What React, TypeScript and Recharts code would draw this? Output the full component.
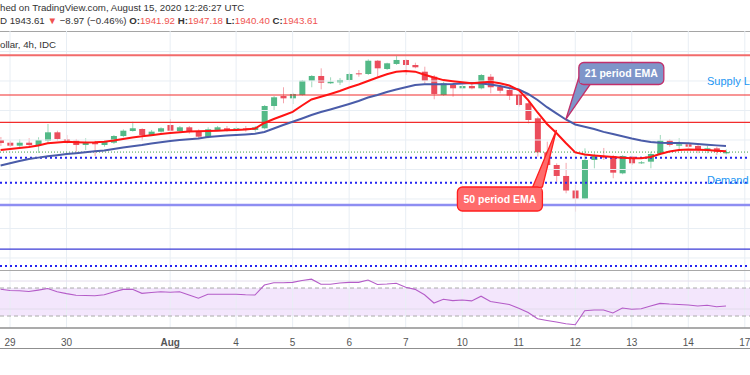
import React from "react";
import {
  ComposedChart,
  Bar,
  Line,
  XAxis,
  YAxis,
  ReferenceLine,
  ReferenceArea,
  ReferenceDot,
} from "recharts";

// 4h candles, XAUUSD, Jul 29 - Aug 14 2020
const opens = [
  1960.0, 1956.3, 1952.3, 1956.3, 1953.2, 1959.1, 1970.4, 1961.0, 1959.1, 1953.2,
  1956.3, 1953.2, 1956.3, 1965.4, 1972.2, 1974.9, 1966.8, 1971.3, 1980.3, 1972.2,
  1977.2, 1972.2, 1963.7, 1973.6, 1975.9, 1973.6, 1975.9, 1973.6, 1975.9, 2006.1,
  2019.7, 2016.5, 2021.0, 2040.4, 2046.8, 2036.9, 2038.2, 2041.4, 2050.4, 2049.5,
  2067.5, 2056.3, 2063.1, 2068.5, 2061.7, 2052.6, 2045.8, 2021.0, 2034.6, 2030.1,
  2033.2, 2030.1, 2045.8, 2032.3, 2027.8, 2021.0, 2009.8, 1989.4, 1943.3, 1926.1,
  1911.2, 1891.5, 1880.3, 1932.9, 1937.5, 1938.3, 1914.8, 1937.4, 1928.4, 1930.6,
  1941.0, 1959.1, 1952.3, 1954.2, 1951.9, 1946.4, 1948.7, 1941.92,
];
const highs = [
  1964.1, 1959.0, 1961.0, 1962.3, 1963.7, 1981.7, 1972.6, 1966.8, 1961.4, 1962.3,
  1959.1, 1959.1, 1966.8, 1974.5, 1984.8, 1975.9, 1973.6, 1977.2, 1988.5, 1979.0,
  1979.0, 1974.5, 1977.2, 1979.0, 1979.0, 1978.1, 1979.0, 1979.0, 2007.5, 2019.7,
  2031.5, 2024.1, 2041.4, 2048.1, 2057.2, 2045.0, 2044.1, 2051.3, 2054.9, 2069.4,
  2068.5, 2064.8, 2075.3, 2069.4, 2064.8, 2059.4, 2048.1, 2039.1, 2036.9, 2035.5,
  2036.9, 2049.5, 2049.5, 2034.6, 2030.1, 2023.3, 2011.9, 1991.6, 1957.7, 1928.4,
  1929.0, 1899.0, 1948.7, 1942.0, 1949.2, 1939.7, 1939.5, 1938.3, 1931.5, 1944.1,
  1966.8, 1961.0, 1962.3, 1956.3, 1954.2, 1951.9, 1950.9, 1947.18,
];
const lows = [
  1951.9, 1950.5, 1950.5, 1950.9, 1942.4, 1955.9, 1959.1, 1954.6, 1944.1, 1946.4,
  1938.3, 1950.9, 1954.6, 1963.7, 1971.3, 1959.1, 1965.4, 1969.9, 1971.3, 1971.3,
  1968.5, 1961.0, 1962.3, 1972.6, 1971.3, 1972.6, 1971.3, 1971.3, 1974.5, 2000.7,
  2009.8, 2008.8, 2020.1, 2031.5, 2028.7, 2036.0, 2034.6, 2039.1, 2045.8, 2048.1,
  2045.8, 2054.9, 2061.7, 2048.1, 2057.2, 2036.9, 2015.2, 2019.7, 2018.7, 2028.7,
  2028.7, 2028.7, 2023.3, 2023.3, 2014.2, 2005.2, 1982.6, 1937.4, 1921.6, 1903.5,
  1887.7, 1862.8, 1879.5, 1921.6, 1932.9, 1908.1, 1913.5, 1926.1, 1927.5, 1921.6,
  1939.7, 1950.9, 1946.4, 1948.7, 1942.0, 1942.0, 1939.7, 1940.4,
];
const closes = [
  1955.9, 1952.3, 1956.3, 1953.2, 1960.0, 1970.4, 1961.4, 1956.9, 1953.2, 1956.3,
  1954.2, 1957.7, 1965.4, 1972.6, 1975.9, 1966.8, 1971.3, 1975.9, 1972.6, 1977.2,
  1971.3, 1964.5, 1974.5, 1977.2, 1973.6, 1975.9, 1973.6, 1977.2, 2006.1, 2017.9,
  2016.5, 2022.4, 2040.4, 2046.8, 2037.7, 2039.1, 2041.4, 2049.5, 2049.1, 2067.5,
  2057.2, 2064.0, 2068.5, 2061.7, 2058.6, 2040.4, 2022.4, 2036.9, 2030.1, 2033.2,
  2030.1, 2048.1, 2031.5, 2026.8, 2020.1, 2007.5, 1987.1, 1943.3, 1926.1, 1911.2,
  1891.5, 1880.3, 1932.9, 1938.3, 1936.5, 1915.7, 1938.3, 1928.4, 1929.7, 1941.0,
  1959.1, 1953.2, 1954.2, 1950.9, 1946.4, 1948.7, 1944.1, 1943.61,
];
// slow (blue) and fast (red) moving averages, named as the callouts name them
const ema21 = [
  1925.4, 1928.4, 1931.5, 1934.2, 1936.1, 1937.8, 1939.4, 1941.0, 1942.1, 1943.3,
  1944.7, 1945.8, 1947.8, 1949.8, 1951.5, 1953.2, 1955.3, 1957.0, 1958.6, 1960.0,
  1961.0, 1962.0, 1964.1, 1965.2, 1966.1, 1966.9, 1967.6, 1968.4, 1970.8, 1975.6,
  1980.3, 1984.7, 1989.2, 1993.9, 1997.9, 2001.4, 2005.0, 2008.8, 2012.9, 2017.6,
  2021.0, 2025.1, 2028.5, 2031.5, 2034.6, 2035.5, 2035.5, 2035.5, 2035.9, 2036.6,
  2037.3, 2036.6, 2035.3, 2033.2, 2030.5, 2028.5, 2022.4, 2014.2, 2004.5, 1996.0,
  1987.8, 1981.0, 1978.0, 1975.0, 1971.0, 1968.0, 1965.0, 1962.0, 1959.3, 1957.3,
  1956.3, 1955.9, 1955.8, 1955.5, 1954.6, 1953.6, 1952.7, 1951.9,
];
const ema50 = [
  1946.4, 1947.8, 1949.2, 1950.5, 1952.5, 1955.5, 1956.6, 1957.7, 1957.0, 1956.5,
  1956.9, 1957.6, 1959.2, 1961.4, 1963.5, 1965.0, 1966.5, 1968.1, 1969.4, 1970.4,
  1971.4, 1971.9, 1972.3, 1972.7, 1973.3, 1973.7, 1974.1, 1975.6, 1983.1, 1988.5,
  1993.2, 1998.2, 2006.8, 2014.9, 2018.6, 2022.4, 2026.4, 2031.2, 2035.3, 2040.0,
  2044.7, 2049.1, 2052.6, 2053.6, 2052.7, 2048.4, 2044.7, 2041.2, 2039.7, 2038.4,
  2036.9, 2037.8, 2038.9, 2036.9, 2033.8, 2027.8, 2014.2, 1997.3, 1981.7, 1969.5,
  1955.9, 1943.1, 1940.2, 1939.0, 1937.9, 1936.8, 1935.9, 1935.2, 1935.2, 1937.0,
  1941.0, 1944.4, 1946.4, 1947.1, 1946.8, 1946.4, 1945.5, 1944.7,
];
const rsi = [
  68.3, 66.4, 66.0, 65.0, 67.0, 69.3, 64.7, 62.0, 59.7, 59.3,
  59.0, 60.3, 64.3, 68.1, 68.1, 62.4, 63.6, 64.7, 63.9, 64.7,
  60.0, 55.4, 61.0, 61.0, 61.0, 61.0, 60.3, 60.0, 74.3, 77.6,
  77.6, 78.1, 80.7, 82.6, 75.3, 75.3, 77.1, 78.1, 78.1, 81.4,
  75.0, 75.7, 76.7, 71.0, 68.1, 60.3, 48.6, 53.9, 52.0, 52.9,
  51.6, 58.3, 50.7, 48.6, 46.4, 41.0, 34.9, 26.1, 23.6, 21.4,
  18.9, 17.6, 37.6, 38.6, 38.6, 34.3, 41.4, 39.6, 40.4, 44.3,
  48.1, 47.1, 46.4, 45.7, 44.3, 45.3, 43.3, 44.3,
];

const dayTicks = [1, 7, 18, 25, 31, 37, 43, 49, 55, 61, 67, 73, 79];
const dayLabels = ["29", "30", "Aug", "4", "5", "6", "7", "10", "11", "12", "13", "14", "17"];
const priceGrid = [2080, 2040, 2000, 1960, 1920, 1880, 1840, 1800];
const rsiGrid = [80, 40];
const supplyLevels = [2021, 1984];
const topLevel = 2075;
const dottedLevels = [1936, 1902, 1789];
const demandLevel = 1872;
const lowerLevel = 1812;
const lastPrice = 1943.61;

const data = opens.map((o, i) => ({
  i,
  open: o,
  high: highs[i],
  low: lows[i],
  close: closes[i],
  range: [lows[i], highs[i]],
  ema21: ema21[i],
  ema50: ema50[i],
  rsi: rsi[i],
}));

const X_DOMAIN: [number, number] = [-0.064, 79.55];
const FONT = "'Liberation Sans', Arial, sans-serif";
const GRID = "#e8eef4";

const Candle = (props: any) => {
  const { x, y, width, height, payload } = props;
  if (!payload) return null;
  const { open, close, high, low } = payload;
  const up = close >= open;
  const k = height / Math.max(high - low, 0.0001);
  const top = y + (high - Math.max(open, close)) * k;
  const bot = y + (high - Math.min(open, close)) * k;
  const cx = x + width / 2;
  return (
    <g>
      <line x1={cx} x2={cx} y1={y} y2={y + height} stroke={up ? "#9fd8bb" : "#f4a6ae"} strokeWidth={1} />
      <rect x={x} y={top} width={width} height={Math.max(bot - top, 1)} fill={up ? "#53b987" : "#eb4d5c"} />
    </g>
  );
};

const BlueCallout = (props: any) => {
  const { cx, cy } = props;
  return (
    <g>
      <polygon
        points={`${cx},${cy} ${cx + 13},${cy - 42} ${cx + 25},${cy - 36}`}
        fill="#7e95c9"
        stroke="#c1306b"
        strokeWidth={1.3}
      />
      <rect x={cx + 13} y={cy - 57} width={85} height={22} rx={5} fill="#7e95c9" stroke="#c1306b" strokeWidth={1.3} />
      <polygon points={`${cx + 14},${cy - 41} ${cx + 24},${cy - 36.5} ${cx + 14},${cy - 36.5}`} fill="#7e95c9" />
      <text x={cx + 55.5} y={cy - 42} textAnchor="middle" fill="#fff" fontSize={10.5} fontWeight={700} fontFamily={FONT}>
        21 period EMA
      </text>
    </g>
  );
};

const RedCallout = (props: any) => {
  const { cx, cy } = props;
  return (
    <g>
      <polygon
        points={`${cx},${cy - 3} ${cx - 25},${cy + 57} ${cx - 14},${cy + 54}`}
        fill="#ff6b6b"
        stroke="#ff1f1f"
        strokeWidth={1.3}
      />
      <rect x={cx - 99} y={cy + 54} width={85} height={24} rx={5} fill="#ff6b6b" stroke="#ff1f1f" strokeWidth={1.3} />
      <polygon points={`${cx - 24},${cy + 55} ${cx - 15},${cy + 55} ${cx - 15},${cy + 58}`} fill="#ff6b6b" />
      <text x={cx - 56.5} y={cy + 70} textAnchor="middle" fill="#fff" fontSize={10.5} fontWeight={700} fontFamily={FONT}>
        50 period EMA
      </text>
    </g>
  );
};

const headerText = { position: "absolute" as const, left: 0, whiteSpace: "nowrap" as const, fontFamily: FONT, fontSize: 9.7, color: "#333" };
const red = { color: "#ef5350" };

export default function App() {
  return (
    <div
      style={{
        position: "fixed",
        left: 0,
        top: 0,
        width: 750,
        height: 375,
        background: "#fff",
        overflow: "hidden",
      }}
    >
      <div style={{ ...headerText, top: 2 }}>hed on TradingView.com, August 15, 2020 12:26:27 UTC</div>
      <div style={{ ...headerText, top: 15 }}>
        D 1943.61 <span style={red}>▼</span> −8.97 (−0.46%) <b>O:</b>
        <span style={red}>1941.92</span> <b>H:</b>
        <span style={red}>1947.18</span> <b>L:</b>
        <span style={red}>1940.40</span> <b>C:</b>
        <span style={red}>1943.61</span>
      </div>

      {/* main price pane */}
      <div style={{ position: "absolute", left: 0, top: 31, width: 750, height: 239, borderTop: "1.5px solid #a5a5a5", boxSizing: "border-box" }} />
      <div style={{ position: "absolute", left: 0, top: 31 }}>
        <ComposedChart width={750} height={239} data={data} margin={{ top: 0, right: 0, bottom: 0, left: 0 }}>
          <XAxis type="number" dataKey="i" domain={X_DOMAIN} allowDataOverflow hide />
          <YAxis type="number" domain={[1783.7, 2107.8]} allowDataOverflow hide />
          {priceGrid.map((p) => (
            <ReferenceLine key={`g${p}`} y={p} stroke={GRID} strokeWidth={1} />
          ))}
          {dayTicks.map((d) => (
            <ReferenceLine key={`v${d}`} x={d} stroke={GRID} strokeWidth={1} />
          ))}
          <ReferenceLine y={topLevel} stroke="#f26b6b" strokeWidth={2} />
          {supplyLevels.map((p) => (
            <ReferenceLine key={`s${p}`} y={p} stroke="#f22c2c" strokeWidth={1.2} />
          ))}
          <ReferenceLine y={lastPrice} stroke="#43a047" strokeWidth={1} strokeDasharray="1 2" />
          {dottedLevels.map((p) => (
            <ReferenceLine key={`d${p}`} y={p} stroke="#2424f0" strokeWidth={2} strokeDasharray="2 3" />
          ))}
          <ReferenceLine y={demandLevel} stroke="#8e8ef2" strokeWidth={2.5} />
          <ReferenceLine y={lowerLevel} stroke="#3b3bd6" strokeWidth={1.3} />
          <Bar dataKey="range" barSize={6} shape={<Candle />} isAnimationActive={false} />
          <Line type="linear" dataKey="ema21" stroke="#4a5ca9" strokeWidth={2} dot={false} isAnimationActive={false} />
          <Line type="linear" dataKey="ema50" stroke="#ff1414" strokeWidth={2} dot={false} isAnimationActive={false} />
          <ReferenceDot x={60} y={ema21[60]} r={0} shape={<BlueCallout />} />
          <ReferenceDot x={59} y={ema50[59]} r={0} shape={<RedCallout />} />
        </ComposedChart>
      </div>
      <div style={{ ...headerText, top: 39 }}>ollar, 4h, IDC</div>
      <div style={{ position: "absolute", left: 707, top: 75, fontFamily: FONT, fontSize: 11, color: "#2196f3", whiteSpace: "nowrap" }}>
        Supply Level
      </div>
      <div style={{ position: "absolute", left: 707, top: 174, fontFamily: FONT, fontSize: 11, color: "#2196f3", whiteSpace: "nowrap" }}>
        Demand Level
      </div>

      {/* RSI pane with time axis */}
      <div style={{ position: "absolute", left: 0, top: 269.5, width: 750, height: 1.5, background: "#a8a8a8" }} />
      <div style={{ position: "absolute", left: 0, top: 271 }}>
        <ComposedChart width={750} height={77} data={data} margin={{ top: 0, right: 0, bottom: 0, left: 0 }}>
          <XAxis
            type="number"
            dataKey="i"
            domain={X_DOMAIN}
            allowDataOverflow
            ticks={dayTicks}
            interval={0}
            tick={(p: any) => {
              const label = dayLabels[dayTicks.indexOf(p.payload.value)] ?? "";
              return (
                <text
                  x={p.x}
                  y={p.y + 10}
                  textAnchor="middle"
                  fontSize={10}
                  fontFamily={FONT}
                  fontWeight={label === "Aug" ? 700 : 400}
                  fill="#555"
                >
                  {label}
                </text>
              );
            }}
            tickLine={false}
            axisLine={{ stroke: "#8f8f8f", strokeWidth: 1.5 }}
            height={20}
          />
          <YAxis type="number" domain={[12.9, 94.3]} allowDataOverflow hide />
          {dayTicks.map((d) => (
            <ReferenceLine key={`rv${d}`} x={d} stroke={GRID} strokeWidth={1} />
          ))}
          <ReferenceArea y1={30} y2={70} fill="#f3e6fc" fillOpacity={1} stroke="none" />
          {rsiGrid.map((r) => (
            <ReferenceLine key={`rg${r}`} y={r} stroke="#e3dcec" strokeWidth={1} />
          ))}
          <ReferenceLine y={70} stroke="#aaa" strokeDasharray="4 3" strokeWidth={1} />
          <ReferenceLine y={30} stroke="#aaa" strokeDasharray="4 3" strokeWidth={1} />
          <Line type="linear" dataKey="rsi" stroke="#b45cc8" strokeWidth={1.1} dot={false} isAnimationActive={false} />
        </ComposedChart>
      </div>
      <div style={{ position: "absolute", left: 0, top: 347.5, width: 750, height: 1.5, background: "#8f8f8f" }} />
    </div>
  );
}
